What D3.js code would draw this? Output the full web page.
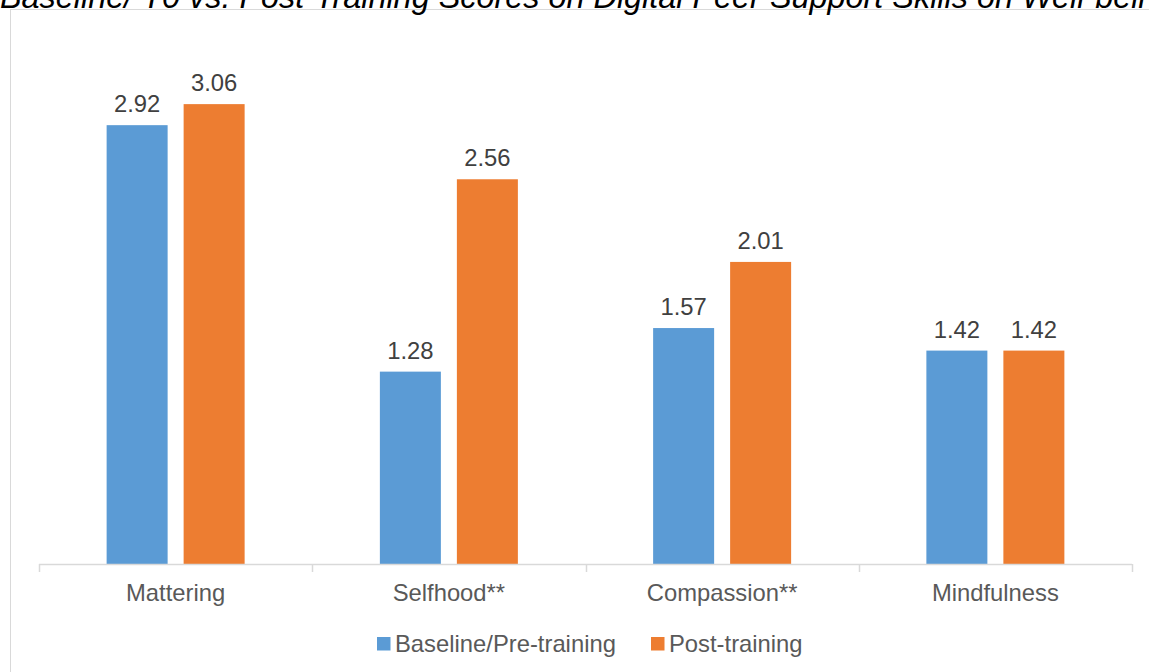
<!DOCTYPE html>
<html><head><meta charset="utf-8">
<script src="https://cdn.jsdelivr.net/npm/d3@7"></script>
<style>html,body{margin:0;padding:0;background:#fff;overflow:hidden}</style>
</head><body>
<svg id="c" width="1149" height="672"></svg>
<script>
const categories = ["Mattering", "Selfhood**", "Compassion**", "Mindfulness"];
const seriesNames = ["Baseline/Pre-training", "Post-training"];
const baseline = [2.92, 1.28, 1.57, 1.42];
const post = [3.06, 2.56, 2.01, 1.42];
const colors = ["#5B9BD5", "#ED7D31"];
const titleText = "Baseline/ T0 vs. Post-Training Scores on Digital Peer Support Skills on Well-being";

const svg = d3.select("#c");
const font = "Arial, 'Liberation Sans', sans-serif";

// chart area border
svg.append("rect").attr("x", 10.5).attr("y", 9.5).attr("width", 1200).attr("height", 700)
  .attr("fill", "#fff").attr("stroke", "#d9d9d9").attr("stroke-width", 1);

// title (clipped at top and right, as in the reference)
svg.append("text").attr("x", 0).attr("y", 7.5)
  .attr("font-family", font).attr("font-style", "italic").attr("font-size", 32.4)
  .attr("fill", "#000").text(titleText);

const x = d3.scaleBand().domain(categories).range([39, 1132]);
const y = d3.scaleLinear().domain([0, 3.5]).range([564, 38]);
const barW = 61, gap = 16;
const barX = (i, si) => x(categories[i]) + x.bandwidth() / 2 - gap / 2 - barW + si * (barW + gap);

const data = [baseline, post];
data.forEach((vals, si) => {
  const g = svg.append("g");
  g.selectAll("rect").data(vals).join("rect")
    .attr("x", (d, i) => barX(i, si))
    .attr("y", d => y(d))
    .attr("width", barW)
    .attr("height", d => y(0) - y(d))
    .attr("fill", colors[si]);
  g.selectAll("text").data(vals).join("text")
    .attr("x", (d, i) => barX(i, si) + barW / 2)
    .attr("y", d => y(d) - 13)
    .attr("text-anchor", "middle")
    .attr("font-family", font).attr("font-size", 23.8).attr("fill", "#404040")
    .text(d => d.toFixed(2));
});

// x axis
svg.append("line").attr("x1", 39).attr("x2", 1132).attr("y1", 564.5).attr("y2", 564.5)
  .attr("stroke", "#d9d9d9").attr("stroke-width", 1.5);
const bounds = categories.map(c => x(c)).concat([x.range()[1]]);
svg.selectAll(".tk").data(bounds).join("line")
  .attr("x1", d => Math.round(d) + 0.5).attr("x2", d => Math.round(d) + 0.5)
  .attr("y1", 564).attr("y2", 572)
  .attr("stroke", "#d9d9d9").attr("stroke-width", 1.5);
svg.selectAll(".cat").data(categories).join("text")
  .attr("x", d => x(d) + x.bandwidth() / 2).attr("y", 601)
  .attr("text-anchor", "middle").attr("font-family", font).attr("font-size", 23.8)
  .attr("fill", "#595959").text(d => d);

// legend
const legendX = [377, 651];
seriesNames.forEach((n, i) => {
  svg.append("rect").attr("x", legendX[i]).attr("y", 637).attr("width", 13.5).attr("height", 13.5).attr("fill", colors[i]);
  svg.append("text").attr("x", legendX[i] + 18).attr("y", 652)
    .attr("font-family", font).attr("font-size", 23.8).attr("fill", "#595959").text(n);
});
</script>
</body></html>
